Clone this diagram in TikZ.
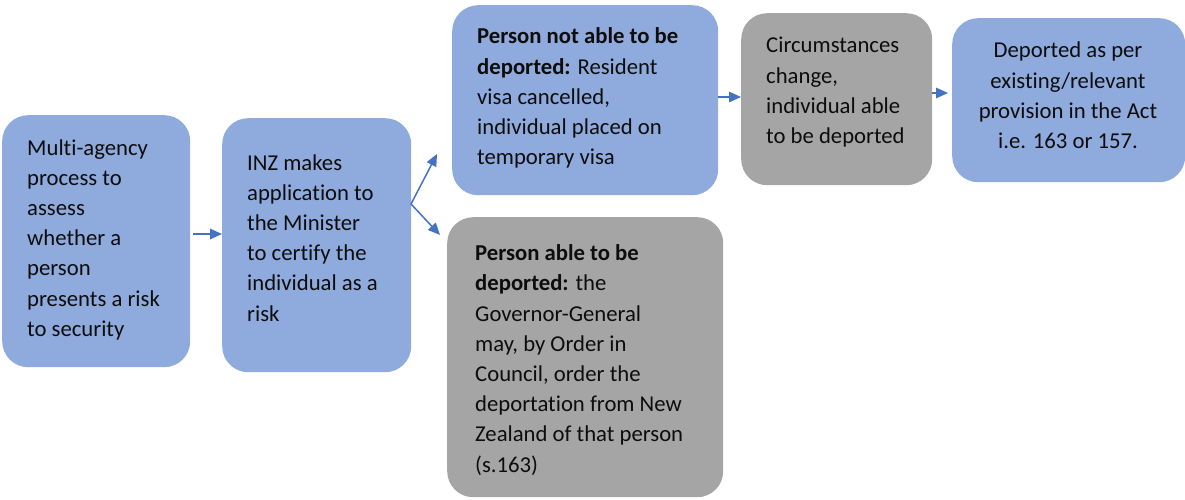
\documentclass[tikz,border=0pt]{standalone}
\usepackage{fontspec}
\setmainfont{Carlito}[Ligatures=NoCommon]
\usetikzlibrary{arrows.meta}
\definecolor{boxblue}{HTML}{8FAADC}
\definecolor{boxgrey}{HTML}{A5A5A5}
\definecolor{arrowblue}{HTML}{4472C4}
\begin{document}
\begin{tikzpicture}[x=1pt,y=-1pt,
  stage/.style={rounded corners=26pt, inner sep=0pt, anchor=north west},
  bluebox/.style={stage, fill=boxblue},
  greybox/.style={stage, fill=boxgrey},
  % multi-line texts are placed by the baseline of their last line
  txt/.style={inner sep=0pt, align=left, anchor=base west,
    font=\fontsize{22.7}{30.2}\selectfont, text=black!95},
  ctxt/.style={txt, align=center, anchor=base},
  arr/.style={draw=arrowblue, line width=1.5pt,
    -{Triangle[length=12pt,width=10.5pt]}}]
\useasboundingbox (0,0) rectangle (1185,500);

% stage boxes
\node[bluebox, minimum width=188pt, minimum height=252pt] (b1) at (2,115) {};
\node[bluebox, minimum width=189pt, minimum height=254pt] (b2) at (222,118) {};
\node[bluebox, minimum width=266pt, minimum height=190pt] (b3) at (452,5) {};
\node[greybox, minimum width=276pt, minimum height=280pt] (b4) at (447,217) {};
\node[greybox, minimum width=191pt, minimum height=172pt] (b5) at (741,13) {};
\node[bluebox, minimum width=233pt, minimum height=164pt] (b6) at (952,18) {};

% box texts
\node[txt] (t1) at (27,336.2) {Multi-agency\\process to\\assess\\whether a\\person\\presents a risk\\to security};
\node[txt] (t2) at (247,321) {INZ makes\\application to\\the Minister\\to certify the\\individual as a\\risk};
\node[txt] (t3) at (477,164.8) {\textbf{Person not able to be}\\\textbf{deported:} Resident\\visa cancelled,\\individual placed on\\temporary visa};
\node[txt] (t4) at (475,472) {\textbf{Person able to be}\\\textbf{deported:} the\\Governor-General\\may, by Order in\\Council, order the\\deportation from New\\Zealand of that person\\(s.163)};
\node[txt] (t5) at (766,143.6) {Circumstances\\change,\\individual able\\to be deported};
\node[ctxt] (t6) at (1068,148.6) {Deported as per\\existing/relevant\\provision in the Act\\i.e. 163 or 157.};

% connectors
\coordinate (fork) at (411,204);
\coordinate (upend) at (437,154);
\coordinate (downend) at (440,235);
\draw[arr] (b1.east |- 0,234) ++(3,0) -- (b2.west |- 0,234);
\draw[arr] (fork) -- (upend);
\draw[arr] (fork) -- (downend);
\draw[arr] (b3.east |- 0,97) -- (b5.west |- 0,97);
\draw[arr] (b5.east |- 0,93) -- ([xshift=-4pt]b6.west |- 0,93);
\end{tikzpicture}
\end{document}
